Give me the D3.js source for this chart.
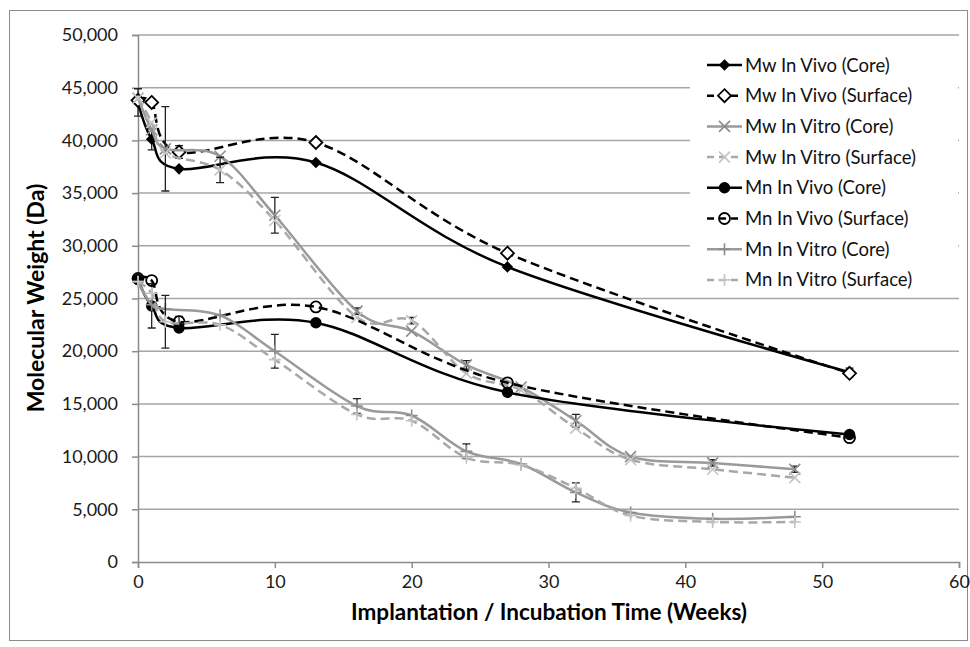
<!DOCTYPE html>
<html>
<head>
<meta charset="utf-8">
<script src="https://cdn.jsdelivr.net/npm/d3@7"></script>
<style>
  body { margin: 0; background: #fff; }
  #chart { width: 970px; height: 647px; }
  text { font-family: Lato, "Open Sans", sans-serif; }
</style>
</head>
<body>
<div id="chart"></div>
<script>
// sampling times (weeks)
const vivoWeeks = [0, 1, 3, 13, 27, 52];
const vitroWeeks = [0, 1, 2, 6, 10, 16, 20, 24, 28, 32, 36, 42, 48];

// molecular weights (Da)
const mwVivoCore = [43600, 40100, 37300, 37900, 28000, 18000];
const mwVivoSurface = [43800, 43600, 38900, 39800, 29300, 17900];
const mwVitroCore = [44000, 41000, 39200, 38500, 32900, 23800, 21900, 18700, 16600, 13400, 10000, 9400, 8800];
const mwVitroSurface = [44000, 41700, 38800, 37200, 32400, 23200, 22900, 17900, 16300, 12700, 9700, 8800, 8000];
const mnVivoCore = [26800, 24300, 22200, 22700, 16100, 12100];
const mnVivoSurface = [26900, 26700, 22800, 24200, 17000, 11800];
const mnVitroCore = [26600, 24400, 24000, 23400, 20000, 14800, 13900, 10500, 9300, 6600, 4700, 4100, 4300];
const mnVitroSurface = [26600, 25500, 22800, 22500, 19200, 14000, 13400, 9900, 9200, 7000, 4400, 3800, 3800];

// error bar half-widths (0 = none shown)
const mwVivoCoreErr = [1300, 1000, 0, 0, 0, 400];
const mwVivoSurfaceErr = [0, 0, 600, 300, 0, 0];
const mwVitroCoreErr = [0, 0, 4000, 0, 1700, 300, 0, 400, 0, 600, 0, 300, 300];
const mwVitroSurfaceErr = [0, 0, 0, 1200, 0, 0, 300, 0, 0, 0, 0, 0, 0];
const mnVivoCoreErr = [0, 2100, 0, 300, 0, 0];
const mnVivoSurfaceErr = [0, 0, 500, 0, 0, 0];
const mnVitroCoreErr = [0, 0, 0, 0, 1600, 700, 0, 700, 0, 900, 0, 0, 0];
const mnVitroSurfaceErr = [0, 0, 2500, 0, 0, 0, 0, 0, 0, 0, 0, 0, 0];

const seriesNames = [
    "Mw In Vivo (Core)", "Mw In Vivo (Surface)", "Mw In Vitro (Core)", "Mw In Vitro (Surface)",
    "Mn In Vivo (Core)", "Mn In Vivo (Surface)", "Mn In Vitro (Core)", "Mn In Vitro (Surface)"
];
const xTicks = [0, 10, 20, 30, 40, 50, 60];
const yTicks = [0, 5000, 10000, 15000, 20000, 25000, 30000, 35000, 40000, 45000, 50000];

class WeightChart {

    constructor(parentElement) {
        this.parentElement = parentElement;
        this.initVis();
    }

    initVis() {
        let vis = this;
        vis.width = 970;
        vis.height = 647;
        vis.margin = { top: 35, right: 11, bottom: 85, left: 138 };

        vis.svg = d3.select("#" + vis.parentElement).append("svg")
            .attr("width", vis.width)
            .attr("height", vis.height);

        // chart frame
        vis.svg.append("rect")
            .attr("x", 9.5).attr("y", 10.5)
            .attr("width", 958).attr("height", 630)
            .attr("fill", "#fff")
            .attr("stroke", "#8c8c8c");

        vis.x = d3.scaleLinear().domain([0, 60]).range([vis.margin.left, vis.width - vis.margin.right]);
        vis.y = d3.scaleLinear().domain([0, 50000]).range([vis.height - vis.margin.bottom, vis.margin.top]);

        // gridlines
        vis.svg.append("g")
            .selectAll("line")
            .data(yTicks.filter(d => d > 0))
            .enter().append("line")
            .attr("x1", vis.x(0)).attr("x2", vis.x(60))
            .attr("y1", d => vis.y(d)).attr("y2", d => vis.y(d))
            .attr("stroke", "#a6a6a6")
            .attr("stroke-width", 1.5);

        let fmt = d3.format(",");
        let yAxis = vis.svg.append("g")
            .attr("transform", `translate(${vis.x(0)},0)`)
            .call(d3.axisLeft(vis.y).tickValues(yTicks).tickFormat(fmt).tickSize(6).tickPadding(14));
        let xAxis = vis.svg.append("g")
            .attr("transform", `translate(0,${vis.y(0)})`)
            .call(d3.axisBottom(vis.x).tickValues(xTicks).tickSize(6).tickPadding(7));
        [xAxis, yAxis].forEach(a => {
            a.select(".domain").attr("stroke", "#8c8c8c").attr("stroke-width", 1.5);
            a.selectAll(".tick line").attr("stroke", "#8c8c8c").attr("stroke-width", 1.5);
            a.selectAll(".tick text")
                .style("font-size", "18px")
                .style("font-family", "Lato, sans-serif")
                .attr("fill", "#1a1a1a");
        });

        vis.svg.append("text")
            .text("Molecular Weight (Da)")
            .attr("transform", `translate(44, 298) rotate(-90)`)
            .attr("text-anchor", "middle")
            .style("font-size", "23px")
            .style("font-weight", "bold");

        vis.svg.append("text")
            .text("Implantation / Incubation Time (Weeks)")
            .attr("x", 549).attr("y", 620)
            .attr("text-anchor", "middle")
            .style("font-size", "22.5px")
            .style("font-weight", "bold");

        vis.series = [
            { weeks: vivoWeeks, values: mwVivoCore, err: mwVivoCoreErr, color: "#000", dash: null, marker: "diamondFill", mcolor: "#000" },
            { weeks: vivoWeeks, values: mwVivoSurface, err: mwVivoSurfaceErr, color: "#000", dash: "9,5", marker: "diamondOpen", mcolor: "#000" },
            { weeks: vitroWeeks, values: mwVitroCore, err: mwVitroCoreErr, color: "#9a9a9a", dash: null, marker: "cross", mcolor: "#8c8c8c" },
            { weeks: vitroWeeks, values: mwVitroSurface, err: mwVitroSurfaceErr, color: "#a8a8a8", dash: "9,5", marker: "cross", mcolor: "#c4c4c4" },
            { weeks: vivoWeeks, values: mnVivoCore, err: mnVivoCoreErr, color: "#000", dash: null, marker: "circleFill", mcolor: "#000" },
            { weeks: vivoWeeks, values: mnVivoSurface, err: mnVivoSurfaceErr, color: "#000", dash: "9,5", marker: "circleOpen", mcolor: "#000" },
            { weeks: vitroWeeks, values: mnVitroCore, err: mnVitroCoreErr, color: "#9a9a9a", dash: null, marker: "plus", mcolor: "#8c8c8c" },
            { weeks: vitroWeeks, values: mnVitroSurface, err: mnVitroSurfaceErr, color: "#a8a8a8", dash: "9,5", marker: "plus", mcolor: "#c4c4c4" }
        ].map((s, i) => ({
            ...s,
            name: seriesNames[i],
            points: s.weeks.map((w, j) => ({ w: w, v: s.values[j], e: s.err[j] }))
        }));

        vis.line = d3.line()
            .x(d => vis.x(d.w))
            .y(d => vis.y(d.v))
            .curve(d3.curveCardinal.tension(0));

        vis.plot = vis.svg.append("g");
        vis.legend = vis.svg.append("g");

        vis.updateVis();
    }

    drawMarker(g, type, color, cx, cy) {
        if (type === "diamondFill" || type === "diamondOpen") {
            let r = type === "diamondFill" ? 4.5 : 6.5;
            g.append("path")
                .attr("d", `M${cx},${cy - r}L${cx + r},${cy}L${cx},${cy + r}L${cx - r},${cy}Z`)
                .attr("fill", type === "diamondFill" ? color : "#fff")
                .attr("stroke", color)
                .attr("stroke-width", 1.8);
        } else if (type === "circleFill" || type === "circleOpen") {
            g.append("circle")
                .attr("cx", cx).attr("cy", cy)
                .attr("r", type === "circleFill" ? 4.8 : 5.5)
                .attr("fill", type === "circleFill" ? color : "none")
                .attr("stroke", color)
                .attr("stroke-width", 1.8);
        } else if (type === "cross") {
            let r = 5.5;
            g.append("path")
                .attr("d", `M${cx - r},${cy - r}L${cx + r},${cy + r}M${cx - r},${cy + r}L${cx + r},${cy - r}`)
                .attr("stroke", color)
                .attr("stroke-width", 1.6)
                .attr("fill", "none");
        } else if (type === "plus") {
            let r = 6;
            g.append("path")
                .attr("d", `M${cx - r},${cy}L${cx + r},${cy}M${cx},${cy - r}L${cx},${cy + r}`)
                .attr("stroke", color)
                .attr("stroke-width", 1.6)
                .attr("fill", "none");
        }
    }

    updateVis() {
        let vis = this;

        vis.series.forEach(s => {
            let g = vis.plot.append("g").attr("class", "series");

            // error bars
            s.points.filter(p => p.e > 0).forEach(p => {
                let px = vis.x(p.w);
                let y1 = vis.y(p.v + p.e), y2 = vis.y(p.v - p.e);
                g.append("path")
                    .attr("d", `M${px},${y1}L${px},${y2}M${px - 4},${y1}L${px + 4},${y1}M${px - 4},${y2}L${px + 4},${y2}`)
                    .attr("stroke", "#222")
                    .attr("stroke-width", 1.3)
                    .attr("fill", "none");
            });

            g.append("path")
                .datum(s.points)
                .attr("d", vis.line)
                .attr("fill", "none")
                .attr("stroke", s.color)
                .attr("stroke-width", 2.5)
                .attr("stroke-dasharray", s.dash);

            s.points.forEach(p => vis.drawMarker(g, s.marker, s.mcolor, vis.x(p.w), vis.y(p.v)));
        });

        // legend
        vis.legend.append("rect")
            .attr("x", 690).attr("y", 37)
            .attr("width", 268).attr("height", 259)
            .attr("fill", "#fff");

        vis.series.forEach((s, i) => {
            let ly = 65 + i * 30.7;
            let g = vis.legend.append("g");
            g.append("line")
                .attr("x1", 707).attr("x2", 742)
                .attr("y1", ly).attr("y2", ly)
                .attr("stroke", s.color)
                .attr("stroke-width", 2.5)
                .attr("stroke-dasharray", s.dash ? "7,5" : null);
            vis.drawMarker(g, s.marker, s.mcolor, 724.5, ly);
            g.append("text")
                .attr("x", 745).attr("y", ly + 6.5)
                .text(s.name)
                .style("font-size", "18.5px")
                .attr("fill", "#111");
        });
    }
}

new WeightChart("chart");
</script>
</body>
</html>
